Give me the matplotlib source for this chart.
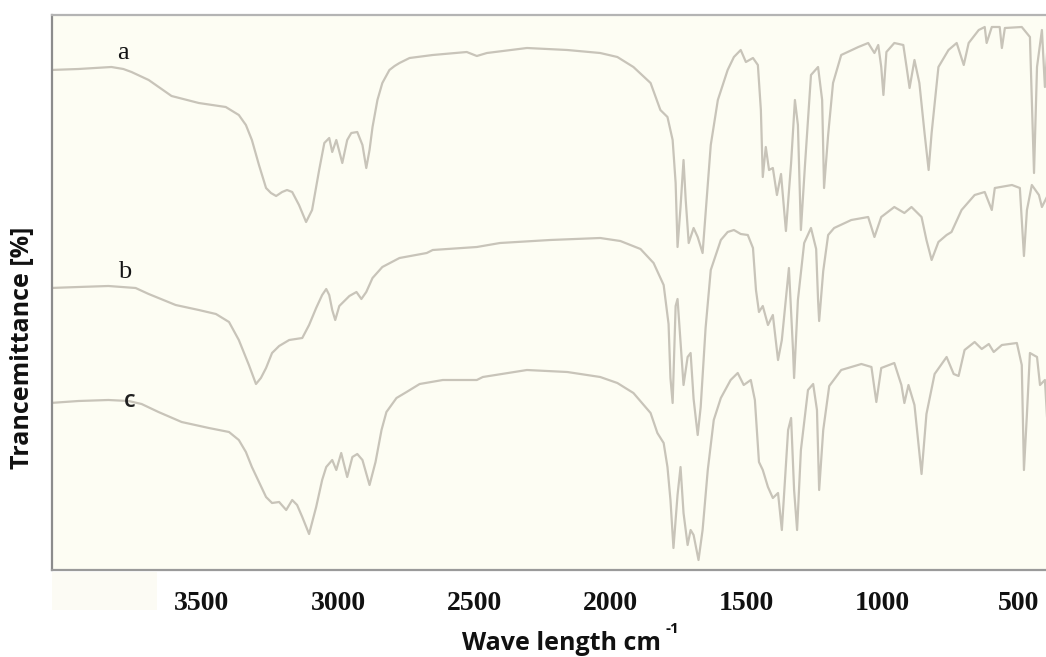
import matplotlib.pyplot as plt
from matplotlib.patches import Rectangle

# wavenumber (cm-1) / transmittance (arbitrary %, curves stacked)
wn_a = [4057, 3953, 3832, 3788, 3758, 3695, 3611, 3511, 3412, 3364, 3338, 3316, 3290, 3264,
        3246, 3227, 3205, 3187, 3168, 3143, 3117, 3095, 3069, 3050, 3032, 3021, 3006, 2984,
        2966, 2951, 2929, 2910, 2896, 2884, 2873, 2855, 2837, 2811, 2792, 2774, 2737, 2652,
        2527, 2490, 2453, 2306, 2158, 2037, 1974, 1915, 1852, 1816, 1790, 1771, 1760, 1753,
        1742, 1731, 1723, 1712, 1694, 1679, 1661, 1650, 1631, 1605, 1569, 1546, 1521, 1502,
        1476, 1458, 1447, 1440, 1429, 1417, 1403, 1388, 1373, 1355, 1336, 1322, 1311, 1300,
        1285, 1263, 1237, 1222, 1215, 1200, 1182, 1152, 1089, 1053, 1030, 1016, 1005, 997,
        986, 957, 924, 912, 901, 883, 865, 846, 831, 820, 795, 758, 728, 702, 684, 647, 625,
        618, 599, 570, 562, 551, 489, 459, 452, 444, 433, 415, 404, 393]
tr_a = [100.0, 100.2, 100.6, 100.2, 99.6, 98.0, 94.8, 93.4, 92.6, 91.0, 89.0, 86.0, 81.0, 76.4,
        75.4, 74.8, 75.6, 76.0, 75.6, 73.0, 69.6, 72.0, 80.0, 85.4, 86.4, 83.6, 86.0, 81.4,
        86.0, 87.4, 87.6, 85.0, 80.4, 84.0, 88.6, 94.0, 97.4, 100.0, 100.8, 101.4, 102.4, 103.0,
        103.6, 102.8, 103.4, 104.4, 104.0, 103.4, 102.6, 100.6, 97.4, 92.0, 90.6, 86.0, 77.4, 64.6,
        72.6, 82.0, 74.0, 65.4, 68.4, 66.6, 63.4, 71.4, 85.0, 94.0, 100.0, 102.6, 104.0, 101.6,
        102.4, 101.0, 92.0, 78.6, 84.6, 80.0, 80.4, 75.0, 79.2, 67.8, 81.4, 94.0, 89.0, 68.0,
        81.0, 99.0, 100.6, 94.0, 76.4, 87.0, 97.4, 103.0, 104.6, 105.4, 103.4, 105.0, 100.6, 95.0,
        103.6, 105.4, 105.0, 100.6, 96.4, 102.0, 97.4, 87.4, 80.0, 87.4, 100.6, 104.0, 105.4, 101.0,
        105.4, 108.0, 108.6, 105.4, 108.6, 108.6, 104.4, 108.4, 108.6, 106.6, 94.0, 79.4, 100.6,
        108.0, 96.6, 106.0]

wn_b = [4057, 3953, 3843, 3743, 3695, 3596, 3511, 3448, 3400, 3364, 3327, 3301, 3283, 3264,
        3242, 3216, 3179, 3131, 3106, 3080, 3058, 3043, 3032, 3021, 3010, 2995, 2958, 2932,
        2914, 2896, 2873, 2837, 2774, 2674, 2652, 2490, 2405, 2221, 2037, 1963, 1889, 1841,
        1804, 1786, 1779, 1771, 1760, 1753, 1742, 1731, 1716, 1705, 1694, 1679, 1668, 1650,
        1631, 1594, 1569, 1546, 1521, 1495, 1476, 1465, 1454, 1440, 1421, 1403, 1384, 1370,
        1344, 1329, 1325, 1311, 1288, 1263, 1244, 1237, 1233, 1218, 1200, 1178, 1115, 1053,
        1030, 1005, 957, 920, 894, 857, 839, 820, 795, 765, 747, 710, 662, 625, 599, 588, 525,
        496, 481, 470, 452, 426, 415, 393]
tr_b = [56.4, 56.6, 56.8, 56.4, 55.2, 53.0, 52.0, 51.2, 49.6, 46.0, 41.0, 37.2, 38.4, 40.4,
        43.4, 44.8, 46.0, 46.4, 49.0, 52.4, 55.0, 56.2, 55.0, 52.0, 50.0, 52.8, 54.8, 55.6,
        54.2, 55.6, 58.4, 60.6, 62.4, 63.4, 64.0, 64.6, 65.4, 66.0, 66.4, 65.8, 64.2, 61.4,
        57.0, 49.2, 38.4, 33.4, 52.8, 54.2, 45.6, 37.0, 42.6, 43.4, 34.2, 27.0, 32.6, 48.4,
        60.0, 66.0, 67.6, 68.0, 67.2, 67.0, 64.4, 56.0, 51.6, 52.8, 49.0, 51.0, 42.0, 46.0,
        60.4, 44.0, 38.4, 54.0, 65.4, 68.4, 64.2, 54.0, 49.8, 59.8, 67.0, 68.4, 70.0, 70.6,
        66.6, 70.6, 72.6, 71.4, 72.6, 70.6, 66.0, 62.0, 65.6, 67.0, 67.6, 72.0, 75.0, 75.6,
        72.0, 76.4, 77.0, 76.4, 62.8, 72.0, 77.0, 75.0, 72.6, 75.0]

wn_c = [4057, 3953, 3843, 3769, 3721, 3659, 3574, 3474, 3400, 3364, 3338, 3316, 3290, 3264,
        3242, 3216, 3190, 3168, 3150, 3131, 3106, 3080, 3058, 3043, 3021, 3006, 2988, 2966,
        2947, 2929, 2910, 2884, 2862, 2840, 2822, 2785, 2748, 2700, 2615, 2490, 2468, 2306,
        2158, 2037, 1974, 1915, 1852, 1827, 1804, 1790, 1779, 1768, 1753, 1742, 1731, 1716,
        1705, 1694, 1676, 1661, 1642, 1620, 1594, 1558, 1532, 1510, 1484, 1469, 1454, 1440,
        1421, 1403, 1384, 1370, 1347, 1336, 1325, 1314, 1300, 1274, 1255, 1241, 1233, 1218,
        1196, 1152, 1078, 1041, 1023, 1005, 957, 931, 920, 905, 883, 857, 839, 809, 765, 739,
        721, 699, 662, 636, 610, 592, 562, 507, 489, 481, 470, 459, 433, 422, 404, 393]
tr_c = [33.4, 33.8, 34.0, 33.8, 33.2, 31.6, 29.6, 28.4, 27.6, 26.0, 23.6, 20.6, 17.6, 14.6,
        13.4, 13.6, 12.0, 14.0, 13.0, 10.6, 7.2, 12.6, 18.0, 20.6, 22.0, 20.0, 23.4, 18.6,
        22.6, 23.2, 22.0, 17.0, 21.6, 28.0, 31.6, 34.4, 35.6, 37.2, 38.0, 38.0, 38.6, 40.0,
        39.6, 38.6, 37.4, 35.4, 31.4, 27.4, 25.4, 20.6, 14.0, 4.4, 15.0, 20.6, 11.4, 5.0,
        8.0, 7.0, 2.0, 8.0, 20.0, 30.0, 34.4, 38.0, 39.4, 37.0, 38.0, 34.0, 21.6, 20.0,
        16.6, 14.4, 15.4, 8.0, 28.0, 30.4, 16.0, 8.0, 24.0, 36.0, 37.2, 32.0, 16.0, 28.0,
        36.8, 40.0, 41.2, 40.6, 33.6, 40.4, 41.4, 37.0, 33.4, 37.0, 33.0, 19.2, 31.2, 39.2, 42.6, 39.2,
        38.8, 44.0, 45.6, 44.2, 45.2, 43.6, 45.0, 45.4, 41.0, 20.0, 31.2, 43.4, 42.6, 37.0, 38.0, 27.6]

x_ticks = [3500, 3000, 2500, 2000, 1500, 1000, 500]
curve_labels = [("a", 3790, 103.4), ("b", 3785, 59.6), ("c", 3765, 33.8)]

line_color = "#c8c4b9"

fig = plt.figure(figsize=(10.46, 6.57), dpi=100)
fig.patch.set_facecolor("white")
ax = fig.add_axes([52 / 1046, 87 / 657, 994 / 1046, 555 / 657])
ax.set_facecolor("#fdfdf3")

for wn, tr in [(wn_a, tr_a), (wn_b, tr_b), (wn_c, tr_c)]:
    ax.plot(wn, tr, color=line_color, lw=1.6, solid_joinstyle="round")

for txt, x, y in curve_labels:
    if txt == "c":
        ax.text(x, y, txt, fontsize=17, family=["Open Sans"], fontweight="semibold",
                color="#202020", ha="center", va="center")
    else:
        ax.text(x, y, txt, fontsize=19, family=["Liberation Serif"],
                color="#151515", ha="center", va="center")

ax.set_xlim(4050, 400)
ax.set_ylim(0, 111)
ax.set_xticks(x_ticks)
ax.set_xticklabels([str(t) for t in x_ticks], fontsize=20, fontweight="bold",
                   family="Liberation Serif", color="#111111")
ax.tick_params(axis="x", length=0, pad=15)
ax.set_yticks([])

for side in ["left", "bottom", "top"]:
    ax.spines[side].set_linewidth(1.6)
ax.spines["left"].set_color("#8c8c8c")
ax.spines["bottom"].set_color("#9a9a9a")
ax.spines["top"].set_color("#b4b4b4")
ax.spines["right"].set_visible(False)

# scan artefact: pale strip under the axis on the left
fig.patches.append(Rectangle((52 / 1046, 47 / 657), 105 / 1046, 38 / 657,
                             transform=fig.transFigure, facecolor="#fcfbf4",
                             edgecolor="none", zorder=0))

fig.text(562 / 1046, 1 - 643 / 657, "Wave length cm", fontsize=18,
         fontweight="bold", family="Open Sans", ha="center", va="center", color="#111111")
fig.text(665 / 1046, 1 - 629 / 657, "-1", fontsize=11,
         fontweight="bold", family="Open Sans", ha="left", va="center", color="#111111")
fig.text(22 / 1046, 1 - 348 / 657, "Trancemittance [%]", fontsize=18,
         fontweight="bold", family="Open Sans", rotation=90, ha="center", va="center",
         color="#111111")

fig.savefig("out.png", dpi=100)
